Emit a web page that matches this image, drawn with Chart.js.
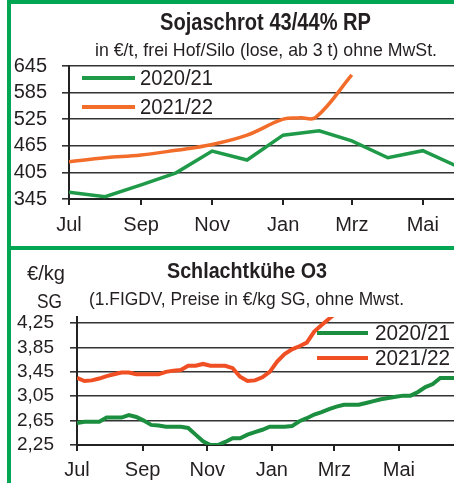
<!DOCTYPE html>
<html lang="de">
<head>
  <meta charset="UTF-8" />
  <title>Sojaschrot / Schlachtkühe</title>
  <script src="https://cdn.jsdelivr.net/npm/chart.js"></script>
  <style>
    body { margin: 0; background: #fff; }
    #wrap {
      position: relative; width: 454px; height: 483px; overflow: hidden;
      font-family: 'Liberation Sans', Arial, sans-serif; color: #231f20;
    }
    canvas { position: absolute; left: 0; }
    #c1 { top: 0; }
    #c2 { top: 250px; }
    .txt { position: absolute; white-space: nowrap; line-height: 1; transform-origin: left top; }
    .frame { position: absolute; background: #00a651; }
  </style>
</head>
<body>
<div id="wrap">
  <canvas id="c1" width="454" height="246"></canvas>
  <canvas id="c2" width="454" height="233"></canvas>

  <!-- Rahmen -->
  <div class="frame" style="left:7px;top:0;width:447px;height:4px"></div>
  <div class="frame" style="left:7px;top:0;width:4px;height:483px"></div>
  <div class="frame" style="left:7px;top:246px;width:447px;height:4px"></div>

  <!-- Titel oben -->
  <div class="txt" data-cx="265" data-w="211" style="top:11px;font-size:23px;font-weight:bold">Sojaschrot 43/44% RP</div>
  <div class="txt" data-cx="266" data-w="342" style="top:40px;font-size:19px">in €/t, frei Hof/Silo (lose, ab 3 t) ohne MwSt.</div>

  <!-- Titel unten -->
  <div class="txt" data-cx="247" data-w="160" style="top:260px;font-size:22px;font-weight:bold">Schlachtkühe O3</div>
  <div class="txt" data-cx="246" data-w="315" style="top:289px;font-size:19px">(1.FIGDV, Preise in €/kg SG, ohne Mwst.</div>
  <div class="txt" data-l="27" data-w="38" style="top:262px;font-size:21px">€/kg</div>
  <div class="txt" data-l="37" data-w="25" style="top:290px;font-size:21px">SG</div>
</div>

<script>
  // Sojaschrot 43/44% RP, €/t (Tage ab 1. Juli)
  const sojaDays2021 = [0, 31, 62, 92, 123, 153, 184, 215, 243, 274, 304, 335];
  const soja2021 = [360, 350, 377, 404, 453, 433, 489, 499, 476, 438, 454, 417];
  const sojaDays2122 = [0, 31, 62, 92, 123, 153, 184, 199, 212, 243];
  const soja2122 = [429, 438, 444, 455, 468, 489, 525, 528, 529, 625];
  const sojaTicks = [345, 405, 465, 525, 585, 645];

  // Schlachtkühe O3, €/kg SG, wöchentlich (Tage ab 1. Juli)
  const kuhDays = [0, 7, 14, 21, 28, 35, 42, 49, 56, 63, 70, 77, 84, 91, 98, 105, 112, 119, 126, 133,
    140, 147, 154, 161, 168, 175, 182, 189, 196, 203, 210, 217, 224, 231, 238, 245, 252, 259, 266, 273,
    280, 287, 294, 301, 308, 315, 322, 329, 336, 343, 350, 357];
  const kuh2021 = [2.61, 2.63, 2.63, 2.63, 2.70, 2.70, 2.70, 2.74, 2.71, 2.65, 2.58, 2.57, 2.55, 2.55, 2.55,
    2.53, 2.42, 2.31, 2.25, 2.25, 2.30, 2.36, 2.36, 2.42, 2.46, 2.50, 2.55, 2.55, 2.55, 2.56, 2.64, 2.69,
    2.75, 2.79, 2.84, 2.88, 2.91, 2.91, 2.91, 2.94, 2.97, 3.00, 3.02, 3.04, 3.06, 3.06, 3.12, 3.20, 3.25,
    3.35, 3.35, 3.35];
  const kuh2122 = [3.35, 3.30, 3.31, 3.34, 3.38, 3.41, 3.44, 3.44, 3.41, 3.41, 3.41, 3.41, 3.45, 3.47, 3.48,
    3.55, 3.55, 3.58, 3.55, 3.55, 3.55, 3.51, 3.37, 3.30, 3.31, 3.36, 3.45, 3.62, 3.74, 3.82, 3.87, 3.93,
    4.11, 4.22, 4.32, 4.42];
  const kuhTicks = [2.25, 2.65, 3.05, 3.45, 3.85, 4.25];

  const monthDays = [0, 62, 123, 184, 243, 304];
  const monthLabels = ['Jul', 'Sep', 'Nov', 'Jan', 'Mrz', 'Mai'];

  const FONT = "'Liberation Sans', Arial, sans-serif";
  const INK = '#231f20';

  // Texte auf Breite bringen (schmale Schrift nachbilden)
  document.querySelectorAll('.txt').forEach(el => {
    const w = el.getBoundingClientRect().width;
    const s = +el.dataset.w / w;
    const left = el.dataset.cx ? +el.dataset.cx - (+el.dataset.w) / 2 : +el.dataset.l;
    el.style.left = left + 'px';
    el.style.transform = 'scaleX(' + s + ')';
  });

  const pts = (xs, ys) => ys.map((y, i) => ({ x: xs[i], y }));

  const legendPlugin = {
    id: 'miniLegend',
    afterDraw(chart, args, o) {
      const ctx = chart.ctx;
      ctx.save();
      chart.data.datasets.forEach((ds, i) => {
        const y = o.y + i * o.gap;
        ctx.strokeStyle = ds.borderColor;
        ctx.lineWidth = 4;
        ctx.beginPath();
        ctx.moveTo(o.x, y);
        ctx.lineTo(o.x + o.len, y);
        ctx.stroke();
        ctx.font = o.size + 'px ' + FONT;
        ctx.fillStyle = INK;
        ctx.textBaseline = 'middle';
        const tw = ctx.measureText(ds.label).width;
        ctx.save();
        ctx.translate(o.x + o.len + o.textGap, y);
        ctx.scale(o.textW / tw, 1);
        ctx.fillText(ds.label, 0, 1);
        ctx.restore();
      });
      ctx.restore();
    }
  };

  function xScale(maxDay, axisH, pad) {
    return {
      type: 'linear', min: 0, max: maxDay,
      afterBuildTicks: s => { s.ticks = monthDays.map(v => ({ value: v })); },
      afterFit: s => { s.height = axisH; },
      ticks: {
        callback: v => monthLabels[monthDays.indexOf(v)],
        autoSkip: false, maxRotation: 0, padding: pad,
        color: INK, font: { family: FONT, size: 20 }
      },
      grid: { drawOnChartArea: false, drawTicks: true, tickLength: 6, color: '#222', lineWidth: 2 },
      border: { display: true, color: '#222', width: 2 }
    };
  }

  function yScale(min, max, tickVals, fmt, axisW, size, pad) {
    return {
      min, max,
      afterBuildTicks: s => { s.ticks = tickVals.map(v => ({ value: v })); },
      afterFit: s => { s.width = axisW; },
      ticks: { callback: fmt, autoSkip: false, padding: pad, color: INK, font: { family: FONT, size } },
      grid: { color: '#333', lineWidth: 1.6, tickLength: 7, drawTicks: true },
      border: { display: true, color: '#222', width: 2 }
    };
  }

  const common = {
    responsive: false,
    animation: false,
    events: [],
    plugins: { legend: { display: false }, tooltip: { enabled: false } },
    elements: { point: { radius: 0 } }
  };

  new Chart(document.getElementById('c1'), {
    type: 'line',
    data: {
      datasets: [
        { label: '2020/21', data: pts(sojaDays2021, soja2021), borderColor: '#1f9a48', borderWidth: 3.5, tension: 0 },
        { label: '2021/22', data: pts(sojaDays2122, soja2122), borderColor: '#f26c2a', borderWidth: 3.5, tension: 0.4 }
      ]
    },
    options: {
      ...common,
      layout: { padding: { top: 66, left: 0, right: 0, bottom: 0 } },
      scales: {
        x: xScale(330.8, 47, 8),
        y: yScale(345, 645, sojaTicks, v => v, 69, 20, 15)
      },
      plugins: {
        ...common.plugins,
        miniLegend: { x: 82, y: 78, gap: 29, len: 53, textGap: 5, size: 22, textW: 73 }
      }
    },
    plugins: [legendPlugin]
  });

  new Chart(document.getElementById('c2'), {
    type: 'line',
    data: {
      datasets: [
        { label: '2020/21', data: pts(kuhDays, kuh2021), borderColor: '#1b8f3f', borderWidth: 4, tension: 0 },
        { label: '2021/22', data: pts(kuhDays, kuh2122), borderColor: '#f04e23', borderWidth: 4, tension: 0 }
      ]
    },
    options: {
      ...common,
      layout: { padding: { top: 67, left: 0, right: 0, bottom: 0 } },
      scales: {
        x: xScale(356, 38, 7),
        y: yScale(2.25, 4.35, kuhTicks, v => v.toFixed(2).replace('.', ','), 77, 19, 16)
      },
      plugins: {
        ...common.plugins,
        miniLegend: { x: 317, y: 83, gap: 25, len: 51, textGap: 7, size: 22, textW: 75 }
      }
    },
    plugins: [legendPlugin]
  });
</script>
</body>
</html>
